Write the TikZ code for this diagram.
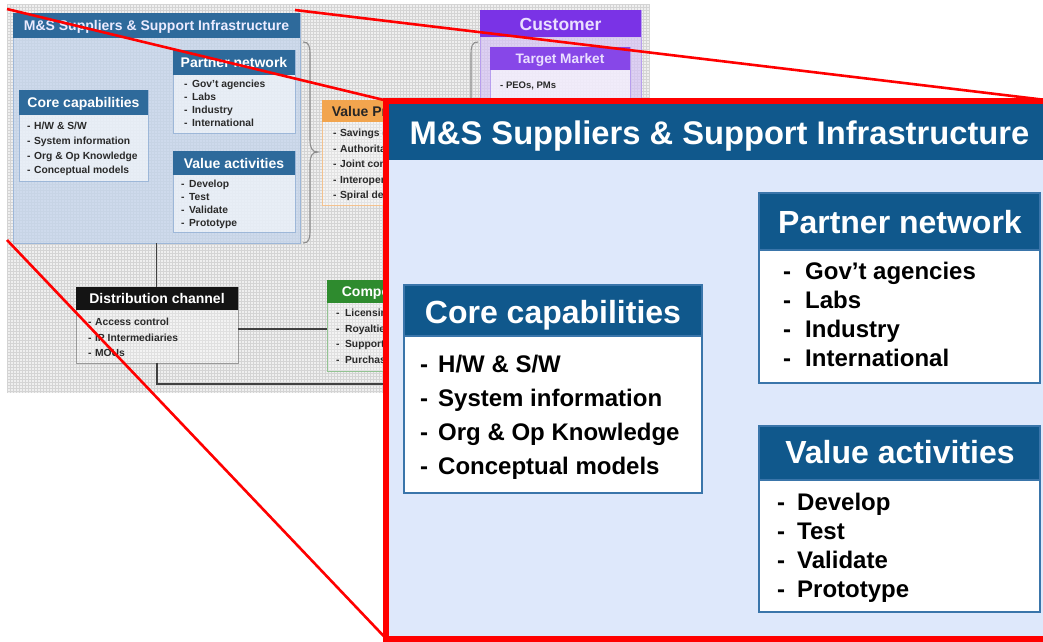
\documentclass[tikz,border=0pt]{standalone}
\usepackage{fontspec}
\setmainfont{Liberation Sans}
\definecolor{gridbg}{HTML}{EFEFEF}
\definecolor{gridln}{HTML}{D4D4D4}
\definecolor{dblue}{HTML}{10588C}
\definecolor{sblue}{HTML}{2E6A9B}
\definecolor{panelbg}{HTML}{DEE8FB}
\definecolor{bdr}{HTML}{3A75AA}
\definecolor{smsbody}{HTML}{C3D4EC}
\definecolor{smsbdr}{HTML}{9DB7D8}
\definecolor{orng}{HTML}{F2A54E}
\definecolor{orngbdr}{HTML}{F4C28E}
\definecolor{purp}{HTML}{7A33E6}
\definecolor{lav}{HTML}{D6C4F6}
\definecolor{lavbdr}{HTML}{B79EEE}
\definecolor{lavtxt}{HTML}{EADFFF}
\definecolor{grn}{HTML}{2E8B2E}
\definecolor{grnbdr}{HTML}{93C393}
\definecolor{stxt}{HTML}{2A2A2A}
\definecolor{braceC}{HTML}{8E8E8E}
\newcommand\bx[6]{\node[anchor=north west,inner sep=0pt,outer sep=0pt,minimum width=#4pt,minimum height=#5pt,#6] (#1) at (#2,#3) {};}
\tikzset{
  ttl/.style={font=\bfseries\fontsize{32}{32}\selectfont,text=white,anchor=base,inner sep=0pt},
  itm/.style={font=\bfseries\fontsize{24}{24}\selectfont,text=black,anchor=base west,inner sep=0pt},
  sttl/.style={font=\bfseries\fontsize{14}{14}\selectfont,text=white,anchor=base,inner sep=0pt},
  sitm/.style={font=\bfseries\fontsize{10.3}{10.3}\selectfont,text=stxt,anchor=base west,inner sep=0pt},
  sconn/.style={draw=black!75,line width=1.4pt},
  bracepath/.style={draw=braceC,line width=1.1pt},
  zoomline/.style={draw=red,line width=2.6pt},
  gridline/.style={draw=gridln,line width=0.35pt}
}
\begin{document}
\begin{tikzpicture}[x=1pt,y=-1pt]
\useasboundingbox (0,0) rectangle (1043,641);
\fill[white] (0,0) rectangle (1043,641);
% ---------- textured background of the small diagram
\fill[gridbg] (7,4) rectangle (650,393);
\foreach \x in {7,10,...,649} \draw[gridline] (\x,4) -- (\x,393);
\foreach \y in {4,7,...,392} \draw[gridline] (7,\y) -- (650,\y);

% ---------- small diagram
% M&S Suppliers & Support Infrastructure
\bx{msS}{13}{13}{287}{230}{draw=smsbdr,fill=smsbody,fill opacity=0.75}
\bx{msSt}{13}{13}{287}{25}{fill=sblue}
\node[sttl,text=white!92!blue] (msStx) at (156.5,30.5) {M\&S Suppliers \& Support Infrastructure};
% Partner network
\bx{pnS}{173}{50}{122}{83}{draw=smsbdr,fill=white,fill opacity=0.55}
\bx{pnSt}{173}{50}{122}{25}{fill=sblue}
\node[sttl] (pnStx) at (234,67.5) {Partner network};
\foreach \t [count=\i from 0] in {Gov’t agencies,Labs,Industry,International}
  \node[sitm] (pnSi\i) at (184,87.5+13*\i) {-\hspace{4.5pt}\t};
% Core capabilities
\bx{ccS}{19}{90}{129}{91}{draw=smsbdr,fill=white,fill opacity=0.55}
\bx{ccSt}{19}{90}{129}{25}{fill=sblue}
\node[sttl] (ccStx) at (83.5,107.5) {Core capabilities};
\foreach \t [count=\i from 0] in {H/W \& S/W,System information,Org \& Op Knowledge,Conceptual models}
  \node[sitm] (ccSi\i) at (27,129.5+14.8*\i) {-\hspace{3.5pt}\t};
% Value activities
\bx{vaS}{173}{151}{122}{81}{draw=smsbdr,fill=white,fill opacity=0.55}
\bx{vaSt}{173}{151}{122}{24}{fill=sblue}
\node[sttl] (vaStx) at (234,168) {Value activities};
\foreach \t [count=\i from 0] in {Develop,Test,Validate,Prototype}
  \node[sitm] (vaSi\i) at (181,187.5+13*\i) {-\hspace{4.5pt}\t};
% brace between M&S and value proposition
\draw[bracepath] (303,42) .. controls (309,42) and (310,46) .. (310,55) -- (310,140)
   .. controls (310,148) and (312,152) .. (318,152)
   .. controls (312,152) and (310,156) .. (310,164) -- (310,230)
   .. controls (310,239) and (309,243) .. (303,243);
% Value proposition
\bx{vpS}{322}{100}{138}{105}{draw=orngbdr,fill=white,fill opacity=0.35}
\bx{vpSt}{322}{100}{138}{22}{fill=orng}
\node[sttl,text=black!85] (vpStx) at (391,116) {Value Proposition};
\foreach \t [count=\i from 0] in {Savings (cost),Authoritative data,Joint concepts,Interoperability,Spiral development}
  \node[sitm] (vpSi\i) at (333,136.5+15.5*\i) {-\hspace{3.5pt}\t};
% brace before customer
\draw[bracepath] (478,42) .. controls (472,42) and (471,46) .. (471,55) -- (471,140)
   .. controls (471,148) and (469,152) .. (463,152)
   .. controls (469,152) and (471,156) .. (471,164) -- (471,230)
   .. controls (471,239) and (472,243) .. (478,243);
% Customer
\bx{cuS}{480}{10}{161}{233}{draw=lavbdr,fill=lav,fill opacity=0.7}
\bx{cuSt}{480}{10}{161}{27}{fill=purp}
\node[sttl,text=lavtxt,font=\bfseries\fontsize{17.5}{17.5}\selectfont] (cuStx) at (560.5,30) {Customer};
\bx{tmS}{490}{47}{140}{190}{draw=lavbdr,fill=white,fill opacity=0.6}
\bx{tmSt}{490}{47}{140}{23}{fill=purp!90!white}
\node[sttl,text=lavtxt,font=\bfseries\fontsize{13.7}{13.7}\selectfont] (tmStx) at (560,63.5) {Target Market};
\node[sitm,font=\bfseries\fontsize{9.5}{9.5}\selectfont] (tmSi0) at (500,88.5) {- PEOs, PMs};
% Distribution channel
\bx{dcS}{76}{287}{162}{76}{draw=black!40,fill=white,fill opacity=0.3}
\bx{dcSt}{76}{287}{162}{23}{fill=black!92}
\node[sttl] (dcStx) at (157,303.5) {Distribution channel};
\foreach \t [count=\i from 0] in {Access control,IP Intermediaries,MOUs}
  \node[sitm] (dcSi\i) at (88,325.5+15.5*\i) {-\hspace{3.5pt}\t};
% Compensation
\bx{cpS}{327}{280}{127}{91}{draw=grnbdr,fill=white,fill opacity=0.3}
\bx{cpSt}{327}{280}{127}{23}{fill=grn}
\node[sttl] (cpStx) at (390.5,296.5) {Compensation};
\foreach \t [count=\i from 0] in {Licensing,Royalties,Support,Purchase}
  \node[sitm] (cpSi\i) at (336,316.5+15.6*\i) {-\hspace{5.5pt}\t};
% connectors of the small diagram
\coordinate (lpend) at (430,384);
\draw[sconn] (msS.south) -- (msS.south |- dcS.north);
\draw[sconn] ([yshift=-4pt]dcS.east) -- ([yshift=-4pt]dcS.east -| cpS.west);
\draw[sconn] (dcS.south) |- (lpend);

% ---------- zoom lines
\coordinate (z1) at (7,9);
\coordinate (z2) at (295,10);
\coordinate (z3) at (7,240);
\coordinate (fNW) at (386,100.5);
\coordinate (fNE) at (1050,100.5);
\coordinate (fSW) at (386,638.5);
\draw[zoomline] (z1) -- (fNW);
\draw[zoomline] (z2) -- (fNE);
\draw[zoomline] (z3) -- (fSW);

% ---------- enlarged panel
\node[anchor=north west,inner sep=0pt,outer sep=0pt,minimum width=700pt,minimum height=538pt,draw=red,line width=6pt,fill=panelbg] (frame) at (fNW) {};
\bx{msB}{389}{104}{660}{56}{fill=dblue}
\node[ttl,font=\bfseries\fontsize{32.7}{32.7}\selectfont] (msBtx) at (719.5,144) {M\&S Suppliers \& Support Infrastructure};
% Core capabilities
\bx{ccB}{404}{285}{298}{208}{draw=bdr,line width=1.4pt,fill=white}
\bx{ccBt}{404}{285}{298}{51}{draw=bdr,line width=1.4pt,fill=dblue}
\node[ttl] (ccBtx) at (553,323) {Core capabilities};
\foreach \t [count=\i from 0] in {H/W \& S/W,System information,Org \& Op Knowledge,Conceptual models}
  \node[itm] (ccBi\i) at (420,372+34.3*\i) {-\hspace{10pt}\t};
% Partner network
\bx{pnB}{759}{193}{281}{190}{draw=bdr,line width=1.4pt,fill=white}
\bx{pnBt}{759}{193}{281}{57}{draw=bdr,line width=1.4pt,fill=dblue}
\node[ttl] (pnBtx) at (900,233) {Partner network};
\foreach \t [count=\i from 0] in {Gov’t agencies,Labs,Industry,International}
  \node[itm] (pnBi\i) at (783,279+29.2*\i) {-\hspace{14pt}\t};
% Value activities
\bx{vaB}{759}{426}{281}{186}{draw=bdr,line width=1.4pt,fill=white}
\bx{vaBt}{759}{426}{281}{54}{draw=bdr,line width=1.4pt,fill=dblue}
\node[ttl] (vaBtx) at (900,463) {Value activities};
\foreach \t [count=\i from 0] in {Develop,Test,Validate,Prototype}
  \node[itm] (vaBi\i) at (777,510+29*\i) {-\hspace{12pt}\t};
\end{tikzpicture}
\end{document}
